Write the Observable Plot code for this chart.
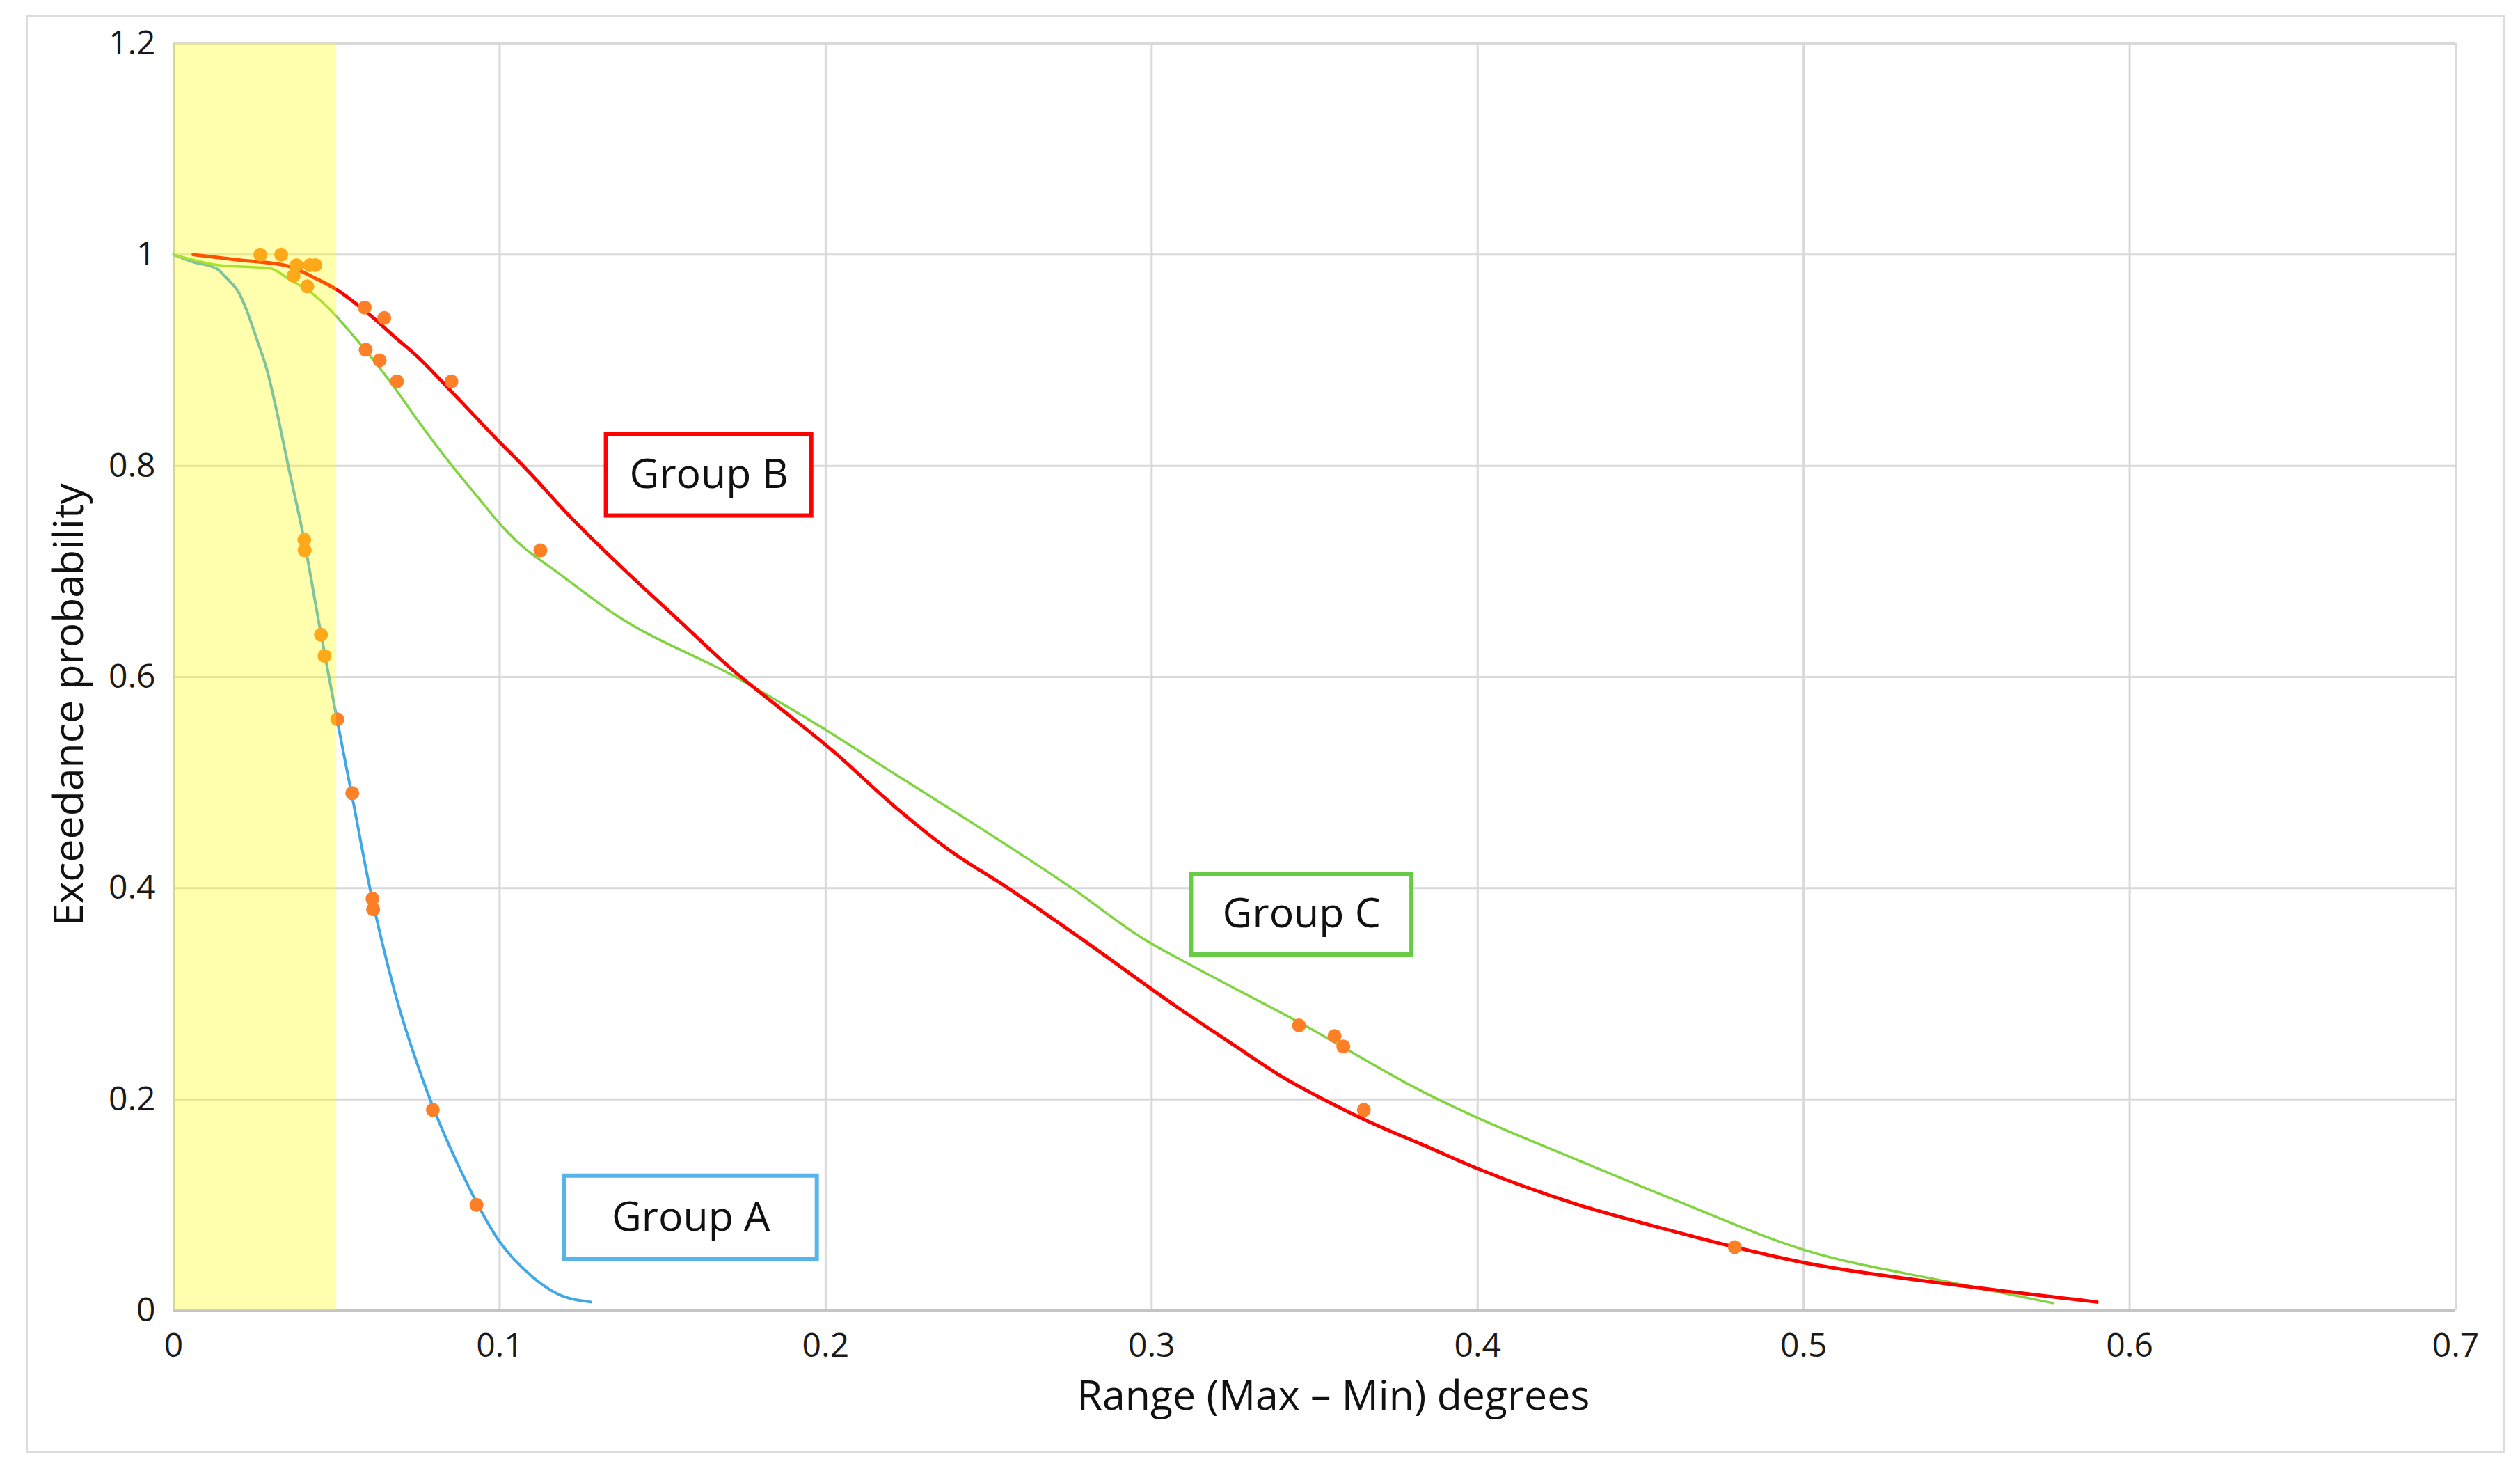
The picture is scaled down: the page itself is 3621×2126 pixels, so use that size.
<!DOCTYPE html>
<html>
<head>
<meta charset="utf-8">
<script src="https://cdn.jsdelivr.net/npm/d3@7"></script>
<script src="https://cdn.jsdelivr.net/npm/@observablehq/plot@0.6"></script>
<style>
  html, body { margin: 0; padding: 0; background: #fff; }
  #wrap { position: relative; width: 3621px; height: 2126px; }
  #wrap svg { display: block; }
  #border { position: absolute; left: 37px; top: 21px; width: 3556px; height: 2060px;
            border: 3px solid #dcdcdc; pointer-events: none; box-sizing: content-box; }
</style>
</head>
<body>
<div id="wrap"><div id="border"></div></div>
<script>
// ---- axis / scale data ----
const xTicks = [0, 0.1, 0.2, 0.3, 0.4, 0.5, 0.6, 0.7];
const yTicks = [0, 0.2, 0.4, 0.6, 0.8, 1, 1.2];
const xDomain = [0, 0.7];
const yDomain = [0, 1.2];
const highlightRange = [0, 0.05];

// ---- fitted curves [range, exceedance] ----
const curveA = [[0,1.0],[0.006,0.993],[0.013,0.987],[0.0165,0.977],[0.02,0.964],[0.0222,0.949],
  [0.0255,0.92],[0.0288,0.889],[0.0316,0.852],[0.0355,0.795],[0.0393,0.741],[0.045,0.644],
  [0.0496,0.568],[0.055,0.483],[0.06,0.403],[0.0678,0.302],[0.0778,0.207],[0.0891,0.126],
  [0.0998,0.066],[0.1104,0.031],[0.1176,0.016],[0.128,0.008]];
const curveB = [[0.006,1.0],[0.02,0.995],[0.0353,0.989],[0.0426,0.979],[0.05,0.967],[0.0549,0.956],
  [0.0606,0.942],[0.0671,0.924],[0.0753,0.902],[0.0835,0.876],[0.0924,0.847],[0.0998,0.823],
  [0.1069,0.801],[0.1222,0.75],[0.1374,0.704],[0.1545,0.655],[0.1717,0.606],[0.187,0.568],
  [0.2022,0.53],[0.2213,0.477],[0.2384,0.435],[0.2555,0.401],[0.2785,0.352],[0.308,0.287],
  [0.3247,0.2525],[0.3397,0.222],[0.3546,0.197],[0.3651,0.181],[0.3846,0.155],[0.4003,0.134],
  [0.4295,0.1015],[0.4594,0.0756],[0.4789,0.06],[0.5006,0.045],[0.5445,0.025],[0.59,0.008]];
const curveC = [[0,1.0],[0.014,0.99],[0.0296,0.987],[0.0353,0.977],[0.0426,0.963],[0.0492,0.944],
  [0.0549,0.924],[0.0606,0.903],[0.068,0.873],[0.0749,0.843],[0.0849,0.802],[0.0934,0.77],
  [0.0998,0.746],[0.1069,0.724],[0.1169,0.701],[0.1355,0.659],[0.1736,0.598],[0.1984,0.553],
  [0.2213,0.508],[0.2403,0.471],[0.2765,0.398],[0.2975,0.352],[0.3097,0.331],[0.3452,0.273],
  [0.3846,0.205],[0.4003,0.182],[0.4295,0.144],[0.4594,0.106],[0.5006,0.057],[0.5445,0.027],
  [0.5764,0.007]];

// ---- observed points [range, exceedance] ----
const pointsA = [[0.0401,0.73],[0.0402,0.72],[0.0452,0.64],[0.0463,0.62],[0.0502,0.56],
  [0.0548,0.49],[0.061,0.39],[0.0612,0.38],[0.0795,0.19],[0.0929,0.10]];
const pointsB = [[0.0266,1.0],[0.033,1.0],[0.0377,0.99],[0.0418,0.99],[0.0435,0.99],
  [0.0586,0.95],[0.0646,0.94],[0.0852,0.88],[0.3651,0.19],[0.4789,0.06]];
const pointsC = [[0.0368,0.98],[0.041,0.97],[0.0589,0.91],[0.0632,0.90],[0.0685,0.88],
  [0.1125,0.72],[0.3452,0.27],[0.3561,0.26],[0.3588,0.25]];

// ---- label boxes (data-space extents) ----
const labelNames = ["Group A", "Group B", "Group C"];
const labelX1 = [0.1199, 0.1327, 0.3122];
const labelX2 = [0.1974, 0.1957, 0.3798];
const labelY1 = [0.0485, 0.7526, 0.3369];
const labelY2 = [0.1274, 0.8298, 0.4134];

const labelColors = ["#56b4e9", "#ff0000", "#66cc44"];
const lineColors = {A: "#41a8e8", B: "#ff0000", C: "#7fd43f"};
const dotColor = "#ff7f27";

const allPoints = [...pointsA, ...pointsB, ...pointsC];
const labels = labelNames.map((name, i) => ({
  name, x1: labelX1[i], x2: labelX2[i], y1: labelY1[i], y2: labelY2[i], color: labelColors[i]
}));

const gridStyle = {stroke: "#d9d9d9", strokeOpacity: 1, strokeWidth: 3};
const fmt = d => String(d);

const marks = [
  Plot.gridX(xTicks, gridStyle),
  Plot.gridY(yTicks, gridStyle),
  Plot.ruleY([yDomain[0]], {stroke: "#c4c4c4", strokeWidth: 4}),
  Plot.ruleX([xDomain[0]], {stroke: "#c4c4c4", strokeWidth: 3}),
  Plot.axisX(xTicks, {tickSize: 0, tickPadding: 32, fontSize: 48, label: null, fill: "#1a1a1a", tickFormat: fmt}),
  Plot.axisY(yTicks, {tickSize: 0, tickPadding: 26, fontSize: 48, label: null, fill: "#1a1a1a", tickFormat: fmt}),
  Plot.line(curveA, {x: d => d[0], y: d => d[1], stroke: lineColors.A, strokeWidth: 4, curve: "monotone-x"}),
  Plot.line(curveC, {x: d => d[0], y: d => d[1], stroke: lineColors.C, strokeWidth: 3.5, curve: "monotone-x"}),
  Plot.line(curveB, {x: d => d[0], y: d => d[1], stroke: lineColors.B, strokeWidth: 5, curve: "monotone-x"}),
  Plot.dot(allPoints, {x: d => d[0], y: d => d[1], r: 10, fill: dotColor, stroke: "none"}),
  Plot.rect([highlightRange], {x1: d => d[0], x2: d => d[1], y1: yDomain[0], y2: yDomain[1],
    fill: "#ffff00", fillOpacity: 0.32}),
  ...labels.map(l => Plot.rect([l], {x1: "x1", x2: "x2", y1: "y1", y2: "y2",
    fill: "white", stroke: l.color, strokeWidth: 6})),
  Plot.text(labels, {x: d => (d.x1 + d.x2) / 2, y: d => (d.y1 + d.y2) / 2, text: "name",
    fontSize: 59, fill: "#111"}),
  Plot.text(["Range (Max \u2013 Min) degrees"], {frameAnchor: "bottom", textAnchor: "middle",
    lineAnchor: "middle", dx: 27, dy: 124, fontSize: 59, fill: "#111"}),
  Plot.text(["Exceedance probability"], {frameAnchor: "left", textAnchor: "middle",
    lineAnchor: "middle", rotate: -90, dx: -149, dy: 40, fontSize: 59, fill: "#111"})
];

const chart = Plot.plot({
  width: 3621,
  height: 2126,
  marginLeft: 249,
  marginRight: 93,
  marginTop: 62,
  marginBottom: 244,
  x: {domain: xDomain},
  y: {domain: yDomain},
  style: {fontFamily: "'Open Sans', sans-serif", background: "white", color: "#1a1a1a", overflow: "visible"},
  marks
});
document.getElementById("wrap").prepend(chart);
</script>
</body>
</html>
